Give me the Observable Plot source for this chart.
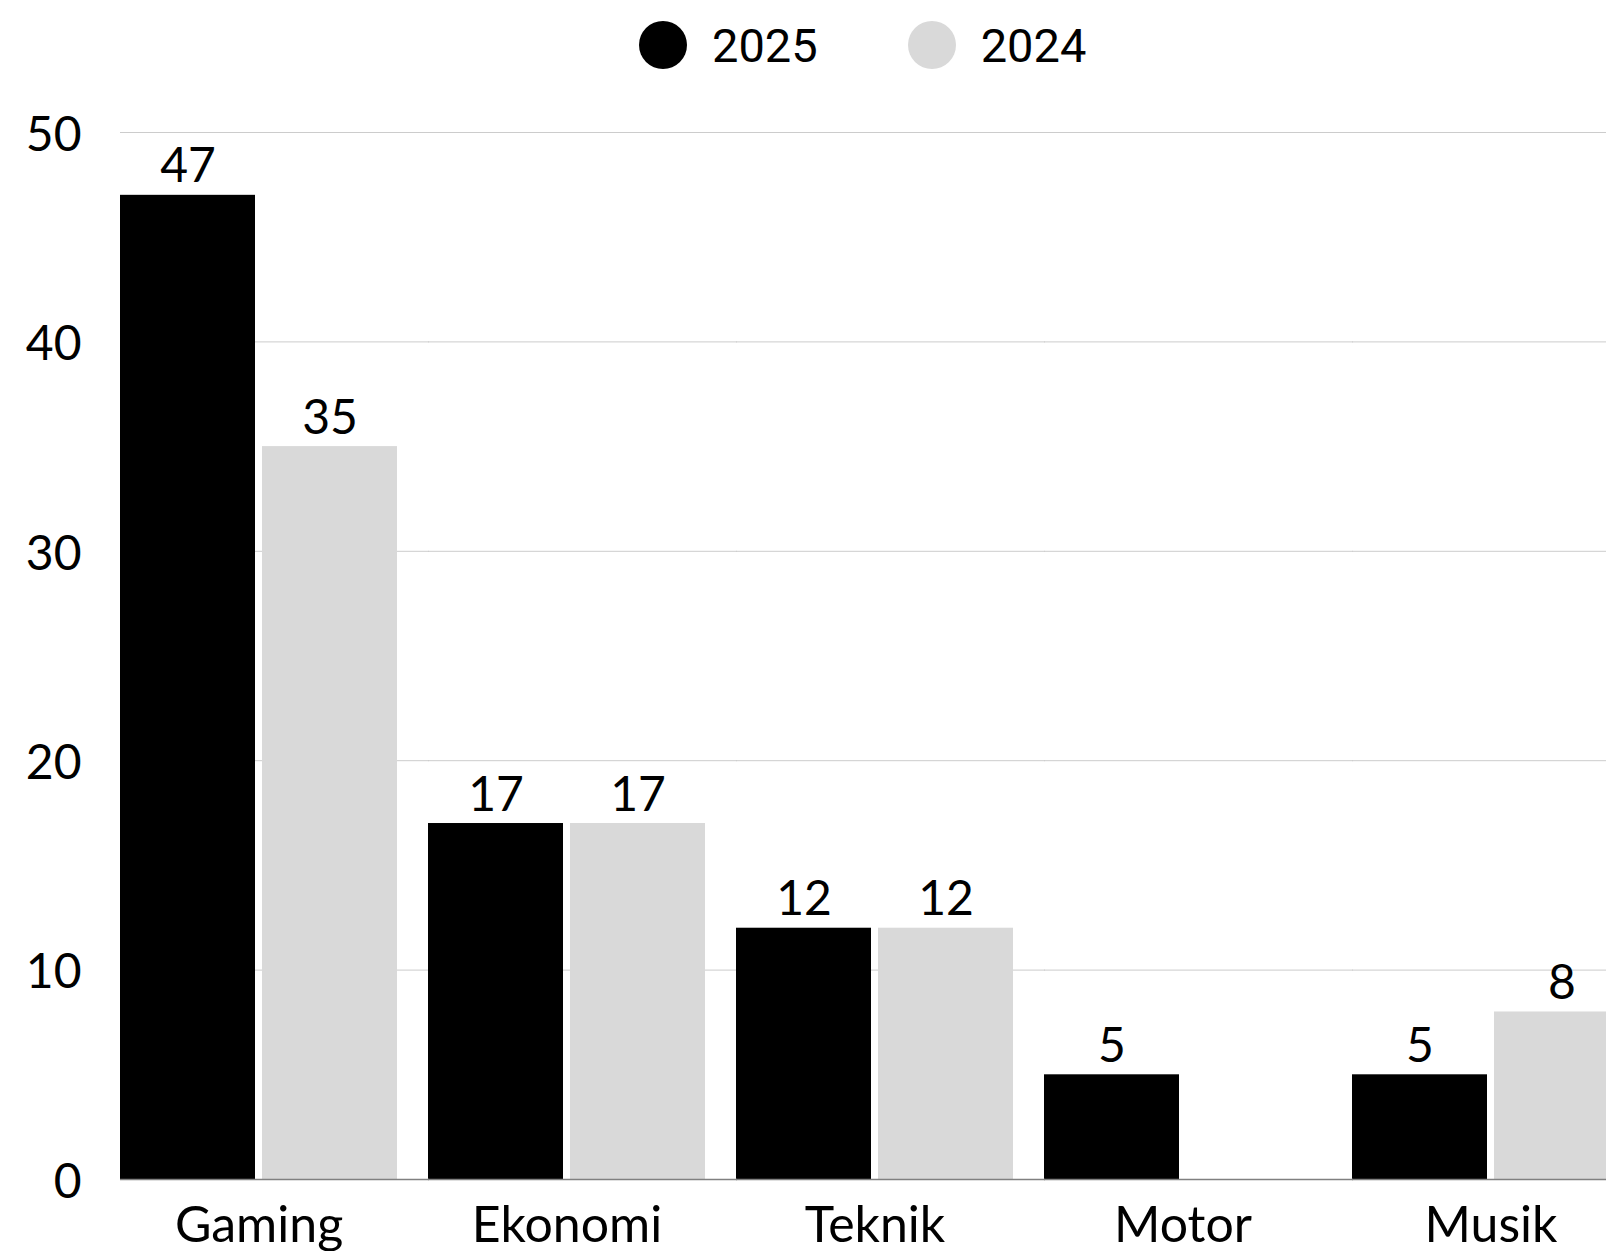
<!DOCTYPE html>
<html>
<head>
<meta charset="utf-8">
<script src="https://cdn.jsdelivr.net/npm/d3@7"></script>
<script src="https://cdn.jsdelivr.net/npm/@observablehq/plot@0.6"></script>
<style>
  html, body { margin: 0; padding: 0; background: #fff; overflow: hidden; width: 1606px; height: 1251px; }
  #legend { position: relative; height: 90px; display: flex; align-items: center; padding-left: 639px; font-family: Roboto, sans-serif; font-size: 47px; color: #000; }
  .item { display: flex; align-items: center; }
  .sw { width: 48px; height: 48px; border-radius: 50%; margin-right: 25px; }
  #chart svg { max-width: none !important; display: block; }
</style>
</head>
<body>
<div id="legend"></div>
<div id="chart"></div>
<script>
const categories = ["Gaming", "Ekonomi", "Teknik", "Motor", "Musik"];
const seriesNames = ["2025", "2024"];
const seriesColors = ["#000000", "#d9d9d9"];
const values2025 = [47, 17, 12, 5, 5];
const values2024 = [35, 17, 12, null, 8];
const yTicks = [0, 10, 20, 30, 40, 50];

const data = [];
categories.forEach((c, i) => {
  if (values2025[i] != null) data.push({category: c, series: "2025", value: values2025[i]});
  if (values2024[i] != null) data.push({category: c, series: "2024", value: values2024[i]});
});

// legend
const legend = document.getElementById("legend");
seriesNames.forEach((s, i) => {
  const it = document.createElement("div");
  it.className = "item";
  if (i > 0) it.style.marginLeft = "90px";
  const sw = document.createElement("div");
  sw.className = "sw";
  sw.style.background = seriesColors[i];
  const t = document.createElement("span");
  t.textContent = s;
  it.appendChild(sw); it.appendChild(t);
  legend.appendChild(it);
});

const chart = Plot.plot({
  width: 1631,
  height: 1161,
  marginLeft: 119,
  marginRight: 1,
  marginTop: 42,
  marginBottom: 72,
  style: {fontFamily: "Lato, sans-serif", fontSize: "48px", color: "#000", background: "#fff", overflow: "hidden"},
  fx: {domain: categories, paddingInner: 0.1, paddingOuter: 0},
  x: {domain: seriesNames, paddingInner: 0.05, paddingOuter: 0, axis: null},
  y: {domain: [0, 50]},
  color: {domain: seriesNames, range: seriesColors},
  marks: [
    Plot.ruleY(yTicks.filter(d => d > 0), {stroke: "#cccccc", strokeWidth: 1, insetRight: -32}),
    Plot.axisY({ticks: yTicks, tickSize: 0, tickPadding: 39, dy: 3, label: null, fontSize: 48}),
    Plot.axisFx({anchor: "bottom", tickSize: 0, tickPadding: 27, label: null, fontSize: 50}),
    Plot.barY(data, {fx: "category", x: "series", y: "value", fill: "series"}),
    Plot.ruleY([0], {stroke: "#808080", strokeWidth: 1.5, insetRight: -32}),
    Plot.text(data, {fx: "category", x: "series", y: "value", text: d => String(d.value), lineAnchor: "bottom", dy: -13, fill: "#000", fontSize: 48})
  ]
});
document.getElementById("chart").appendChild(chart);
</script>
</body>
</html>
